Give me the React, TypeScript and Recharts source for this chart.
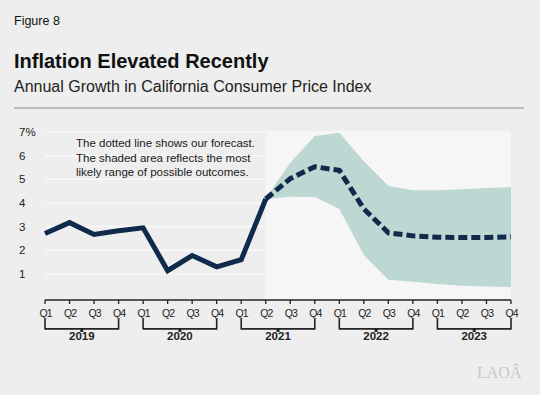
import {
  ComposedChart, Line, Area, XAxis, YAxis, CartesianGrid,
  ReferenceArea, ReferenceLine,
} from 'recharts';

const YEARS = ['2019', '2020', '2021', '2022', '2023'];
const QUARTERS = ['Q1', 'Q2', 'Q3', 'Q4'];
const Y_TICKS = [1, 2, 3, 4, 5, 6, 7];

// quarterly values, 2019 Q1 .. 2021 Q2
const ACTUAL = [2.71, 3.17, 2.67, 2.83, 2.95, 1.14, 1.78, 1.3, 1.6, 4.17];
// forecast, 2021 Q2 .. 2023 Q4
const FORECAST = [4.17, 5.03, 5.53, 5.38, 3.75, 2.74, 2.61, 2.55, 2.54, 2.54, 2.57];
const BAND_HIGH = [4.2, 5.7, 6.83, 6.97, 5.76, 4.72, 4.54, 4.54, 4.58, 4.63, 4.67];
const BAND_LOW = [4.17, 4.26, 4.25, 3.75, 1.8, 0.76, 0.67, 0.58, 0.5, 0.47, 0.45];

const FORECAST_START = ACTUAL.length - 1;
const N = YEARS.length * QUARTERS.length;

const data = Array.from({ length: N }, (_, i) => {
  const f = i - FORECAST_START;
  return {
    i,
    actual: i < ACTUAL.length ? ACTUAL[i] : null,
    forecast: f >= 0 ? FORECAST[f] : null,
    band: f >= 0 ? [BAND_LOW[f], BAND_HIGH[f]] : null,
  };
});

const Q_TICKS = data.map((d) => d.i);
const YEAR_TICKS = YEARS.map((_, k) => k * 4 + 1.5);

const NAVY = '#0f2a4b';
const INK = '#222';
const FONT = 'Arial, "Liberation Sans", Helvetica, sans-serif';

function QTick({ x, y, payload }: any) {
  return (
    <text x={x + 0.5} y={y} dy="0.75em" textAnchor="middle" fontSize={10.5} fill={INK}
      fontFamily={FONT} letterSpacing={-0.9}>
      {QUARTERS[payload.value % 4]}
    </text>
  );
}

function YearTick({ x, y, payload }: any) {
  const k = Math.round((payload.value - 1.5) / 4);
  return (
    <text x={x} y={y} dy="0.71em" textAnchor="middle" fontSize={11.5} fontWeight="bold"
      fill={INK} fontFamily={FONT}>
      {YEARS[k]}
    </text>
  );
}

function YTick({ y, payload }: any) {
  return (
    <text x={19} y={y} dy="0.36em" textAnchor="start" fontSize={11.5} fill={INK} fontFamily={FONT}>
      {payload.value === 7 ? '7%' : payload.value}
    </text>
  );
}

export default function App() {
  return (
    <div style={{
      position: 'absolute', left: 0, top: 0, width: 540, height: 395,
      background: '#edeeed', fontFamily: FONT, color: '#111', overflow: 'hidden',
    }}>
      <div style={{ position: 'absolute', left: 14, top: 15, fontSize: 12.5, lineHeight: 1 }}>
        Figure 8
      </div>
      <div style={{ position: 'absolute', left: 14, top: 51, fontSize: 20, fontWeight: 'bold', lineHeight: 1 }}>
        Inflation Elevated Recently
      </div>
      <div style={{ position: 'absolute', left: 14, top: 78.5, fontSize: 16, lineHeight: 1, color: '#222' }}>
        Annual Growth in California Consumer Price Index
      </div>
      <div style={{ position: 'absolute', left: 14, top: 107, width: 510, height: 2, background: '#bdbdbd' }} />

      <div style={{ position: 'absolute', left: 0, top: 0 }}>
        <ComposedChart width={540} height={395} data={data}
          margin={{ top: 132, right: 29, bottom: 38, left: 0 }}>
          <ReferenceArea x1={FORECAST_START} x2={N - 1} y1={-0.1} y2={7}
            fill="#f6f6f6" fillOpacity={1} stroke="none" />
          <CartesianGrid vertical={false} stroke="#fbfbfb" strokeWidth={1.2} />
          <XAxis type="number" dataKey="i" domain={[0, N - 1]} ticks={Q_TICKS} interval={0}
            height={24} tickSize={4} tickMargin={5}
            axisLine={{ stroke: INK, strokeWidth: 1.6 }}
            tickLine={{ stroke: INK, strokeWidth: 1.3 }}
            tick={<QTick />} />
          <XAxis xAxisId="year" type="number" dataKey="i" domain={[0, N - 1]} ticks={YEAR_TICKS}
            interval={0} height={33} axisLine={false} tickLine={false} tickSize={0} tickMargin={8}
            tick={<YearTick />} />
          <YAxis type="number" domain={[-0.1, 7]} ticks={Y_TICKS} width={45}
            axisLine={false} tickLine={false} tick={<YTick />} />
          <Area dataKey="band" type="linear" fill="#bdd7d3" fillOpacity={1} stroke="none"
            isAnimationActive={false} activeDot={false} />
          <Line dataKey="actual" type="linear" stroke={NAVY} strokeWidth={5} dot={false}
            activeDot={false} isAnimationActive={false} />
          <Line dataKey="forecast" type="linear" stroke={NAVY} strokeWidth={5} strokeDasharray="9 4"
            dot={false} activeDot={false} isAnimationActive={false} />
          {YEARS.map((yr, k) => (
            <ReferenceLine key={yr + 'h'} ifOverflow="visible" stroke={INK} strokeWidth={1.6}
              segment={[{ x: k * 4, y: -1.32 }, { x: k * 4 + 3, y: -1.32 }]} />
          ))}
          {YEARS.map((yr, k) => (
            <ReferenceLine key={yr + 'l'} ifOverflow="visible" stroke={INK} strokeWidth={1.6}
              segment={[{ x: k * 4, y: -0.9 }, { x: k * 4, y: -1.35 }]} />
          ))}
          {YEARS.map((yr, k) => (
            <ReferenceLine key={yr + 'r'} ifOverflow="visible" stroke={INK} strokeWidth={1.6}
              segment={[{ x: k * 4 + 3, y: -0.9 }, { x: k * 4 + 3, y: -1.35 }]} />
          ))}
          {YEARS.map((yr, k) => (
            <ReferenceLine key={yr + 'c'} ifOverflow="visible" stroke={INK} strokeWidth={3}
              segment={[{ x: k * 4 + 1.5, y: -1.3 }, { x: k * 4 + 1.5, y: -1.45 }]} />
          ))}
        </ComposedChart>
      </div>

      <div style={{
        position: 'absolute', left: 76, top: 136, fontSize: 11.5, lineHeight: '14.5px', color: '#1a1a1a',
      }}>
        The dotted line shows our forecast.<br />
        The shaded area reflects the most<br />
        likely range of possible outcomes.
      </div>

      <div style={{
        position: 'absolute', left: 477, top: 365, fontSize: 16, lineHeight: 1,
        fontFamily: '"Liberation Serif", "DejaVu Serif", serif', color: '#c8c8c8',
      }}>
        LAOÂ
      </div>
    </div>
  );
}
